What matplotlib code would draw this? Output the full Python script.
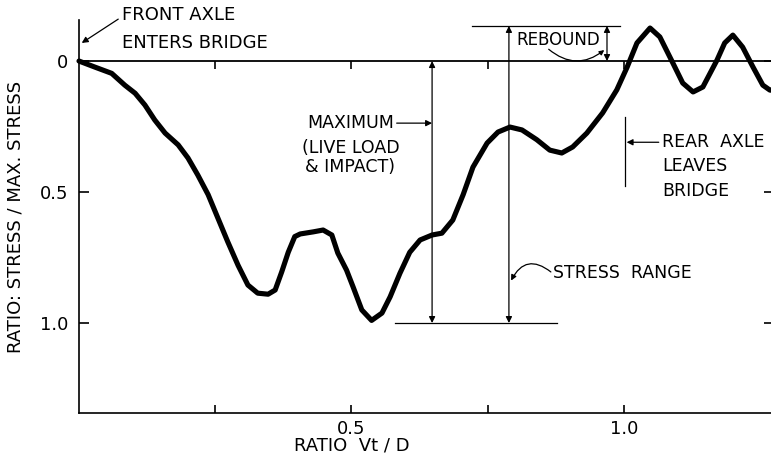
import numpy as np
import matplotlib
matplotlib.use("Agg")
import matplotlib.pyplot as plt

# stress ratio curve (x = Vt/D, y = stress / max stress)
ratio_vt_d = [0.0, 0.029, 0.06, 0.084, 0.103, 0.121, 0.139, 0.158, 0.182, 0.20,
              0.218, 0.237, 0.255, 0.273, 0.292, 0.31, 0.328, 0.347, 0.36, 0.372,
              0.384, 0.396, 0.406, 0.43, 0.448, 0.464, 0.475, 0.491, 0.503, 0.519,
              0.537, 0.556, 0.571, 0.589, 0.607, 0.626, 0.648, 0.666, 0.686, 0.705,
              0.723, 0.749, 0.769, 0.791, 0.813, 0.84, 0.864, 0.886, 0.906, 0.932,
              0.961, 0.987, 1.006, 1.024, 1.048, 1.066, 1.09, 1.108, 1.127, 1.145,
              1.171, 1.185, 1.20, 1.218, 1.237, 1.255, 1.268, 1.28]
stress_ratio = [0.0, 0.023, 0.047, 0.092, 0.123, 0.168, 0.225, 0.275, 0.32, 0.37,
                0.435, 0.51, 0.60, 0.69, 0.78, 0.855, 0.886, 0.89, 0.874, 0.805,
                0.73, 0.67, 0.66, 0.652, 0.645, 0.664, 0.733, 0.798, 0.862, 0.95,
                0.99, 0.962, 0.90, 0.81, 0.73, 0.683, 0.664, 0.657, 0.607, 0.51,
                0.405, 0.313, 0.271, 0.252, 0.263, 0.30, 0.34, 0.351, 0.328, 0.275,
                0.198, 0.11, 0.023, -0.069, -0.126, -0.092, 0.008, 0.084, 0.118, 0.099,
                -0.004, -0.069, -0.099, -0.053, 0.023, 0.092, 0.111, 0.112]

x_ticks = [0.25, 0.5, 0.75, 1.0]
x_tick_labels = ["", "0.5", "", "1.0"]
y_ticks = [0.0, 0.5, 1.0]
y_tick_labels = ["0", "0.5", "1.0"]

# annotation positions in data units
x_max_line = 0.648      # "maximum" dimension line
x_range_line = 0.789    # "stress range" dimension line
x_rebound = 0.969       # rebound dimension
y_rebound = -0.134      # peak rebound level
x_rear = 1.002          # rear axle leaves bridge

fig = plt.figure(figsize=(7.71, 4.59), dpi=100)
ax = fig.add_axes([0, 0, 1, 1])
ax.set_xlim(-0.145, 1.27)
ax.set_ylim(1.519, -0.233)

ink = "black"
ax.plot(ratio_vt_d, stress_ratio, color=ink, lw=3.7, solid_joinstyle="round",
        solid_capstyle="round", zorder=5)

# axes frame like the original drawing
for side in ["left", "bottom", "top", "right"]:
    ax.spines[side].set_linewidth(1.2)
ax.spines["left"].set_position(("data", 0))
ax.spines["left"].set_bounds(-0.156, 1.343)
ax.spines["bottom"].set_position(("data", 1.343))
ax.spines["bottom"].set_bounds(0, 1.3)
ax.spines["top"].set_position(("data", 0))
ax.spines["top"].set_bounds(0, 1.3)
ax.spines["top"].set_linewidth(1.3)
ax.spines["right"].set_position(("data", 1.275))
ax.spines["right"].set_visible(False)

ax.set_xticks(x_ticks)
ax.set_xticklabels(x_tick_labels)
ax.set_yticks(y_ticks)
ax.set_yticklabels(y_tick_labels)
ax.tick_params(axis="x", direction="in", length=6, width=1.2, top=True,
               labelsize=13, pad=5)
ax.tick_params(axis="y", direction="in", length=7, width=1.2, right=True,
               labelsize=13, pad=8)

ax.text(-0.117, 0.595, "RATIO: STRESS / MAX. STRESS", rotation=90, fontsize=13,
        ha="center", va="center")
ax.text(0.5, 1.467, "RATIO  Vt / D", fontsize=13, ha="center", va="center")

thin = dict(color=ink, lw=0.9)
arr2 = dict(arrowstyle="<|-|>", color=ink, lw=0.9, mutation_scale=9, shrinkA=0, shrinkB=0)
arr1 = dict(arrowstyle="-|>", color=ink, lw=0.9, mutation_scale=9, shrinkA=0, shrinkB=0)

# front axle
ax.annotate("", xy=(0.005, -0.069), xytext=(0.072, -0.16), arrowprops=arr1)
ax.text(0.079, -0.176, "FRONT AXLE", fontsize=13, ha="left", va="center")
ax.text(0.079, -0.069, "ENTERS BRIDGE", fontsize=13, ha="left", va="center")

# maximum (live load & impact)
ax.annotate("", xy=(x_max_line, 0.0), xytext=(x_max_line, 1.0), arrowprops=arr2)
ax.plot([0.58, 0.877], [1.0, 1.0], **thin)
ax.annotate("", xy=(x_max_line, 0.237), xytext=(0.583, 0.237), arrowprops=arr1)
ax.text(0.578, 0.237, "MAXIMUM", fontsize=12.5, ha="right", va="center")
ax.text(0.499, 0.332, "(LIVE LOAD", fontsize=12.5, ha="center", va="center")
ax.text(0.497, 0.405, "& IMPACT)", fontsize=12.5, ha="center", va="center")

# stress range
ax.annotate("", xy=(x_range_line, y_rebound), xytext=(x_range_line, 1.0), arrowprops=arr2)
ax.plot([0.721, 0.993], [y_rebound, y_rebound], **thin)
ax.annotate("", xy=(x_range_line + 0.004, 0.838), xytext=(0.866, 0.805),
            arrowprops=dict(arrowstyle="-|>", color=ink, lw=0.9, mutation_scale=8,
                            shrinkA=0, shrinkB=0, connectionstyle="arc3,rad=0.6"))
ax.text(0.87, 0.809, "STRESS  RANGE", fontsize=12.5, ha="left", va="center")

# rebound
ax.annotate("", xy=(x_rebound, y_rebound), xytext=(x_rebound, 0.0), arrowprops=arr2)
ax.text(0.803, -0.08, "REBOUND", fontsize=12, ha="left", va="center")
ax.annotate("", xy=(x_rebound - 0.005, -0.042), xytext=(0.862, -0.045),
            arrowprops=dict(arrowstyle="-|>", color=ink, lw=0.9, mutation_scale=7,
                            shrinkA=0, shrinkB=0, connectionstyle="arc3,rad=0.4"))

# rear axle
ax.plot([x_rear, x_rear], [0.214, 0.477], **thin)
ax.annotate("", xy=(x_rear + 0.003, 0.31), xytext=(1.064, 0.31), arrowprops=arr1)
ax.text(1.07, 0.31, "REAR  AXLE", fontsize=12.5, ha="left", va="center")
ax.text(1.07, 0.401, "LEAVES", fontsize=12.5, ha="left", va="center")
ax.text(1.07, 0.496, "BRIDGE", fontsize=12.5, ha="left", va="center")

fig.savefig("out.png", dpi=100)
